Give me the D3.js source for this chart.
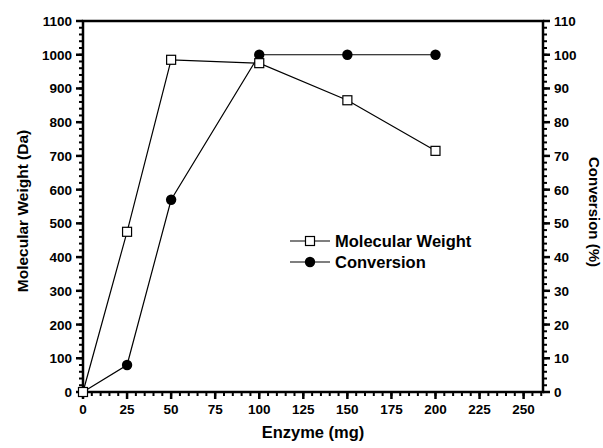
<!DOCTYPE html>
<html>
<head>
<meta charset="utf-8">
<script src="https://cdn.jsdelivr.net/npm/d3@7"></script>
<style>
  body { margin: 0; background: #fff; }
</style>
</head>
<body>
<svg id="chart" width="603" height="448"></svg>
<script>
// data
const enzyme = [0, 25, 50, 100, 150, 200];
const molWeight = [0, 475, 985, 975, 865, 715];
const conversion = [0, 8, 57, 100, 100, 100];
const xTicks = [0, 25, 50, 75, 100, 125, 150, 175, 200, 225, 250];
const yLeftTicks = [0, 100, 200, 300, 400, 500, 600, 700, 800, 900, 1000, 1100];
const yRightTicks = [0, 10, 20, 30, 40, 50, 60, 70, 80, 90, 100, 110];

const margin = { left: 83, right: 60, top: 21, bottom: 56 };
const W = 603, H = 448;
const FONT = "'Liberation Sans', Arial, sans-serif";

const svg = d3.select("#chart")
  .attr("font-family", FONT).attr("font-weight", "bold");

const x = d3.scaleLinear().domain([0, 261]).range([margin.left, W - margin.right]);
const yL = d3.scaleLinear().domain([0, 1100]).range([H - margin.bottom, margin.top]);
const yR = d3.scaleLinear().domain([0, 110]).range([H - margin.bottom, margin.top]);

// minor ticks
const xMinor = d3.range(0, 261, 5);
const yLMinor = d3.range(0, 1101, 20);
const yRMinor = d3.range(0, 111, 2);

const bottom = H - margin.bottom;

// x axis
const gx = svg.append("g").attr("transform", `translate(0,${bottom})`);
gx.selectAll("line.minor").data(xMinor).enter().append("line")
  .attr("x1", d => x(d)).attr("x2", d => x(d)).attr("y1", 0).attr("y2", 4)
  .attr("stroke", "#000").attr("stroke-width", 2);
gx.selectAll("line.major").data(xTicks).enter().append("line")
  .attr("x1", d => x(d)).attr("x2", d => x(d)).attr("y1", 0).attr("y2", 7)
  .attr("stroke", "#000").attr("stroke-width", 2.5);
gx.selectAll("text").data(xTicks).enter().append("text")
  .attr("x", d => x(d)).attr("y", 22).attr("text-anchor", "middle")
  .attr("font-size", 13.5).text(d => d);

// left y axis
const gl = svg.append("g").attr("transform", `translate(${margin.left},0)`);
gl.selectAll("line.minor").data(yLMinor).enter().append("line")
  .attr("y1", d => yL(d)).attr("y2", d => yL(d)).attr("x1", 0).attr("x2", -4)
  .attr("stroke", "#000").attr("stroke-width", 2);
gl.selectAll("line.major").data(yLeftTicks).enter().append("line")
  .attr("y1", d => yL(d)).attr("y2", d => yL(d)).attr("x1", 0).attr("x2", -7)
  .attr("stroke", "#000").attr("stroke-width", 2.5);
gl.selectAll("text").data(yLeftTicks).enter().append("text")
  .attr("x", -11).attr("y", d => yL(d) + 5).attr("text-anchor", "end")
  .attr("font-size", 13.5).text(d => d);

// right y axis
const gr = svg.append("g").attr("transform", `translate(${W - margin.right},0)`);
gr.selectAll("line.minor").data(yRMinor).enter().append("line")
  .attr("y1", d => yR(d)).attr("y2", d => yR(d)).attr("x1", 0).attr("x2", 4)
  .attr("stroke", "#000").attr("stroke-width", 2);
gr.selectAll("line.major").data(yRightTicks).enter().append("line")
  .attr("y1", d => yR(d)).attr("y2", d => yR(d)).attr("x1", 0).attr("x2", 7)
  .attr("stroke", "#000").attr("stroke-width", 2.5);
gr.selectAll("text").data(yRightTicks).enter().append("text")
  .attr("x", 11).attr("y", d => yR(d) + 5).attr("text-anchor", "start")
  .attr("font-size", 13.5).text(d => d);

// frame
svg.append("rect")
  .attr("x", margin.left).attr("y", margin.top)
  .attr("width", W - margin.right - margin.left)
  .attr("height", bottom - margin.top)
  .attr("fill", "none").attr("stroke", "#000").attr("stroke-width", 2.5);

// axis titles
svg.append("text").attr("x", 313).attr("y", 438)
  .attr("text-anchor", "middle").attr("font-size", 16.5).text("Enzyme (mg)");
svg.append("text")
  .attr("transform", "translate(28,211) rotate(-90)")
  .attr("text-anchor", "middle").attr("font-size", 15.5).text("Molecular Weight (Da)");
svg.append("text")
  .attr("transform", "translate(589,212) rotate(90)")
  .attr("text-anchor", "middle").attr("font-size", 15).text("Conversion (%)");

// series
const mwPts = enzyme.map((e, i) => [x(e), yL(molWeight[i])]);
const cvPts = enzyme.map((e, i) => [x(e), yR(conversion[i])]);

const line = d3.line();
svg.append("path").attr("d", line(mwPts)).attr("fill", "none")
  .attr("stroke", "#000").attr("stroke-width", 1.2);
svg.append("path").attr("d", line(cvPts)).attr("fill", "none")
  .attr("stroke", "#000").attr("stroke-width", 1.2);

svg.selectAll("circle.cv").data(cvPts).enter().append("circle")
  .attr("cx", d => d[0]).attr("cy", d => d[1]).attr("r", 5.2).attr("fill", "#000");
svg.selectAll("rect.mw").data(mwPts).enter().append("rect")
  .attr("x", d => d[0] - 4.5).attr("y", d => d[1] - 4.5)
  .attr("width", 9).attr("height", 9)
  .attr("fill", "#fff").attr("stroke", "#000").attr("stroke-width", 1.2);

// legend
const legend = [
  { label: "Molecular Weight", marker: "square" },
  { label: "Conversion", marker: "circle" }
];
const lg = svg.append("g").attr("transform", "translate(290,241)");
legend.forEach((d, i) => {
  const g = lg.append("g").attr("transform", `translate(0,${i * 21})`);
  g.append("line").attr("x1", 0).attr("x2", 40).attr("y1", 0).attr("y2", 0)
    .attr("stroke", "#000").attr("stroke-width", 1.2);
  if (d.marker === "square") {
    g.append("rect").attr("x", 15.5).attr("y", -4.5).attr("width", 9).attr("height", 9)
      .attr("fill", "#fff").attr("stroke", "#000").attr("stroke-width", 1.2);
  } else {
    g.append("circle").attr("cx", 20).attr("cy", 0).attr("r", 5.2).attr("fill", "#000");
  }
  g.append("text").attr("x", 45).attr("y", 6).attr("font-size", 16.5).text(d.label);
});
</script>
</body>
</html>
